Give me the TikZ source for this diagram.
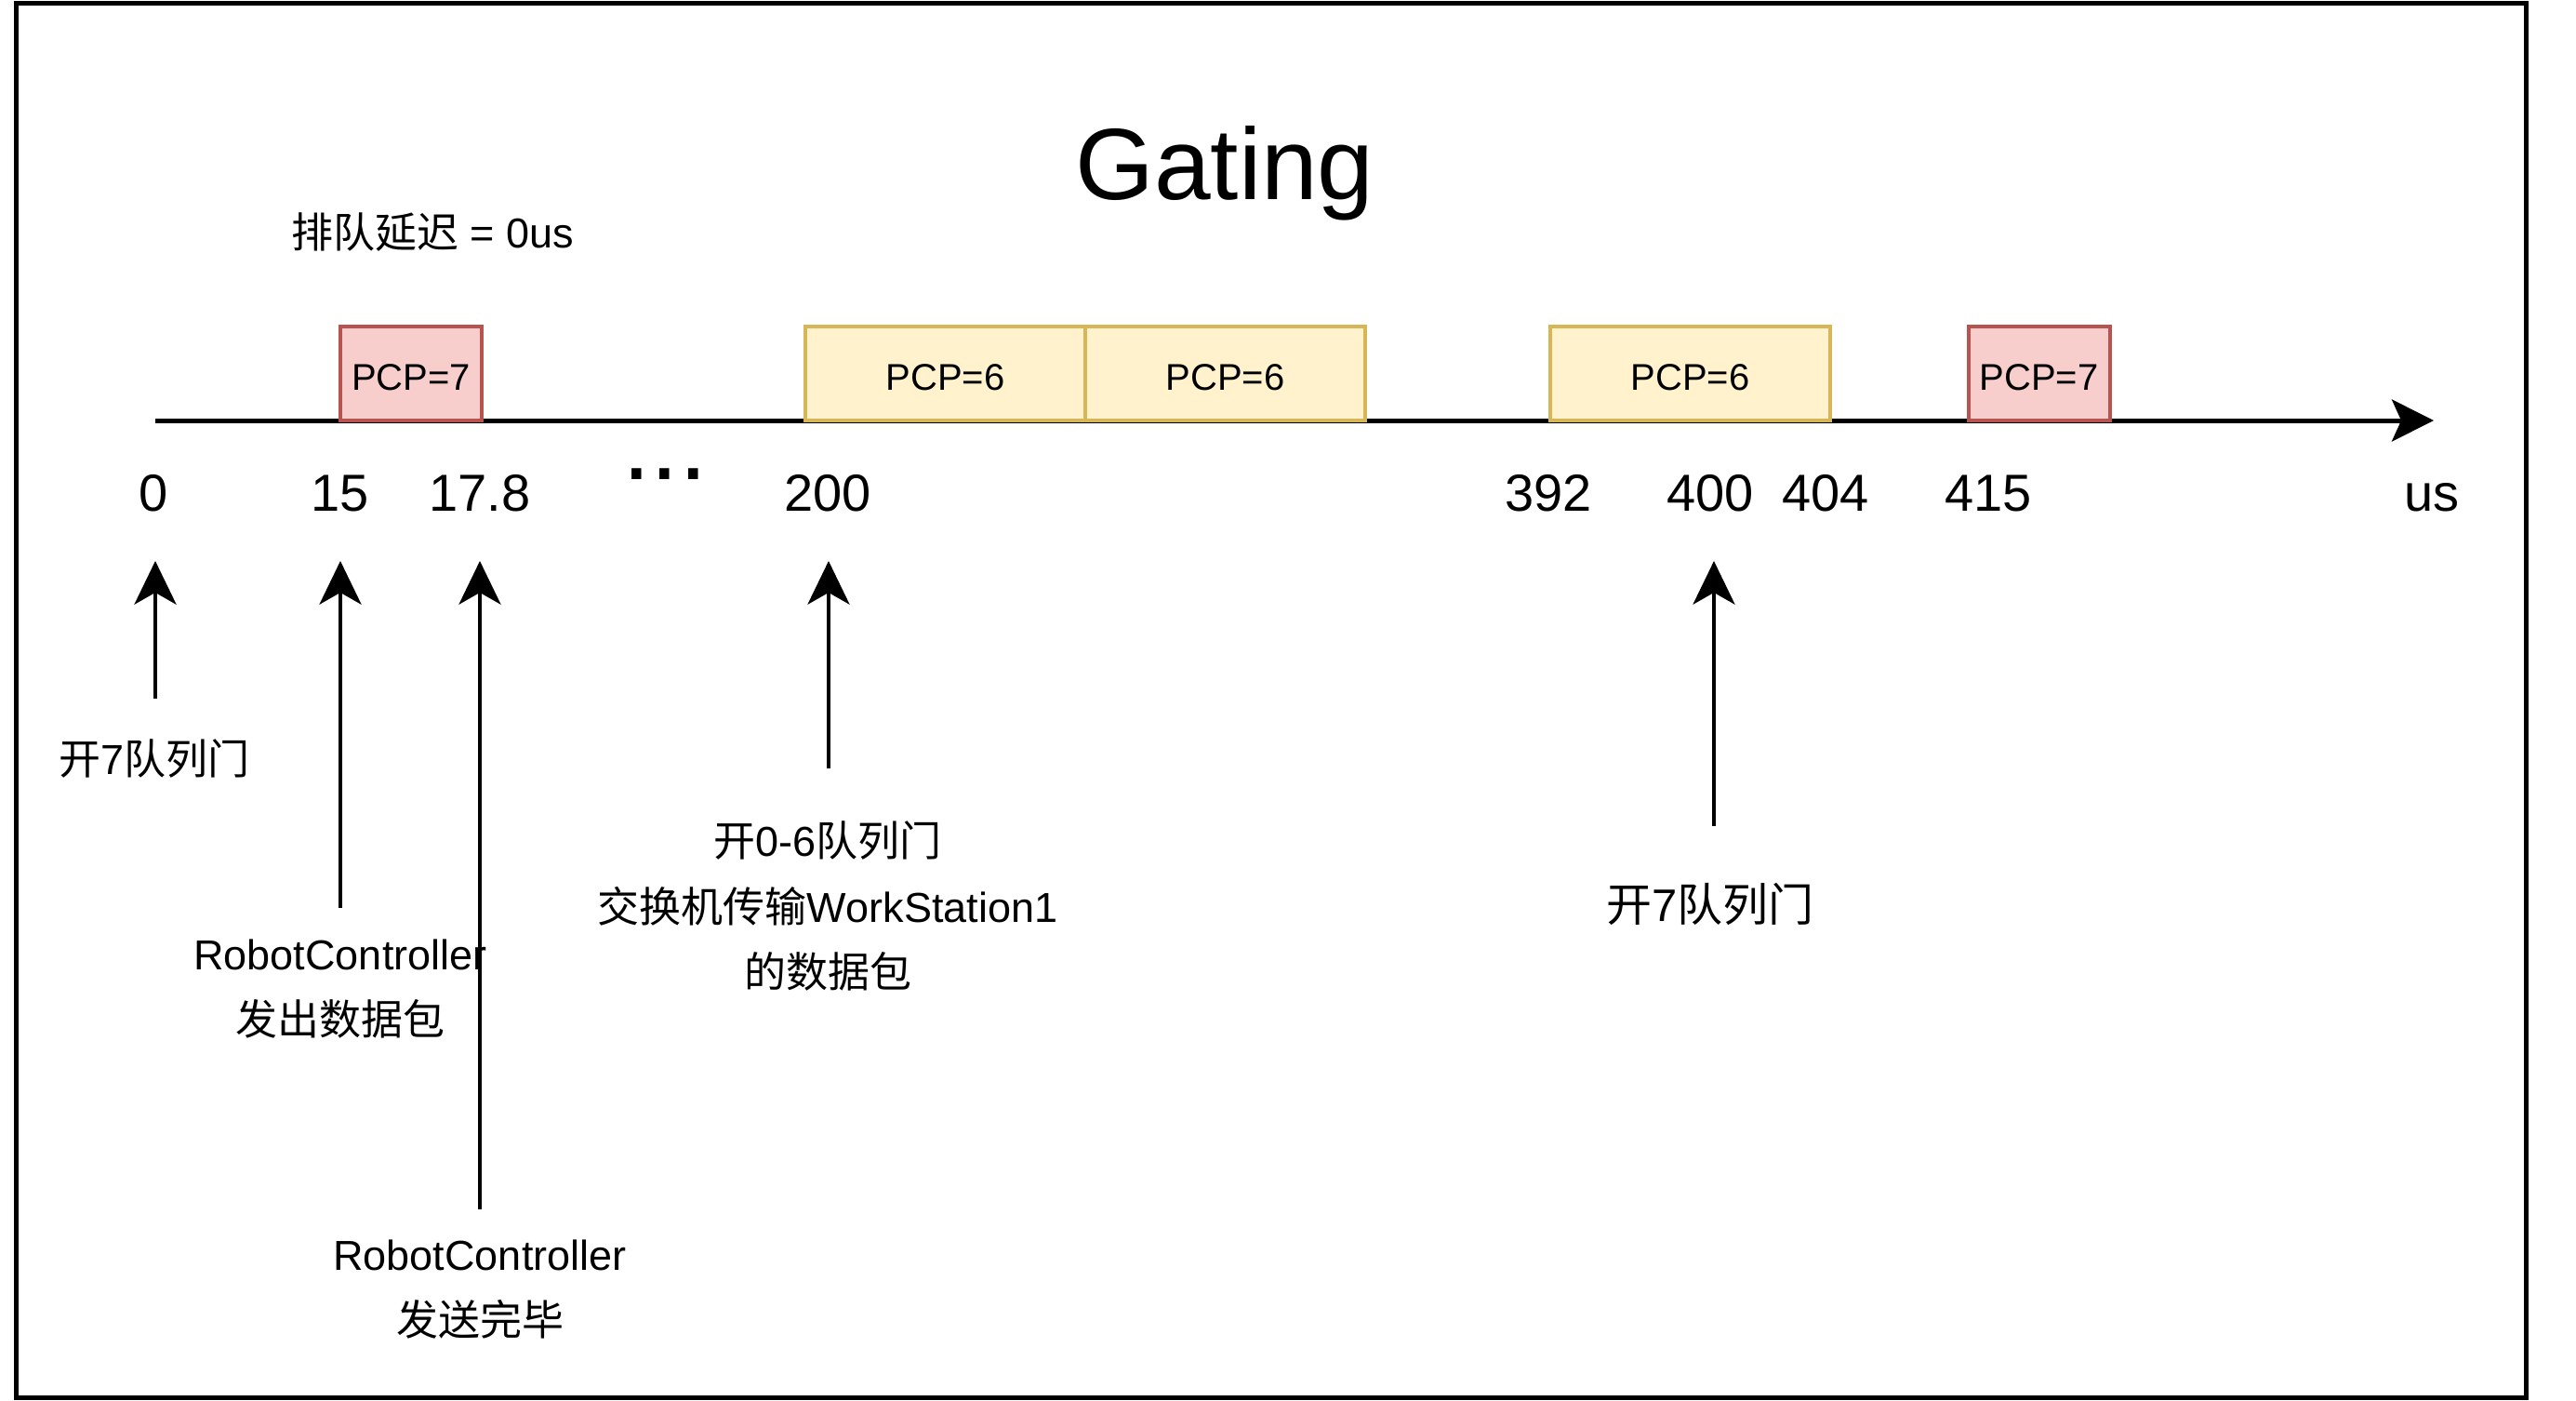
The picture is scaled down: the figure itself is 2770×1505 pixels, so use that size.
\documentclass[tikz,border=0pt]{standalone}
\usepackage{fontspec}
\setmainfont{Liberation Sans}
\newfontfamily\cjkfont{Noto Sans CJK SC}
\newcommand\zh[1]{{\cjkfont #1}}
\newcommand\fsz[2]{\fontsize{#1}{#2}\selectfont}
\usetikzlibrary{arrows.meta}
\definecolor{redfill}{HTML}{F8CECC}
\definecolor{redline}{HTML}{B85450}
\definecolor{yelfill}{HTML}{FFF2CC}
\definecolor{yelline}{HTML}{D6B656}
\begin{document}
\begin{tikzpicture}[x=0.3pt,y=-0.3pt,
  uparrow/.style={line width=1.2pt,-{Stealth[length=14pt,width=13.5pt,inset=3.8pt]}},
  axisline/.style={line width=1.5pt,-{Stealth[length=13.5pt,width=13.5pt,inset=3pt]}},
  pkt/.style={draw, line width=1.2pt, inner sep=0pt, minimum height=30.3pt, text height=10.7pt, text depth=0pt, font=\fsz{12}{14}},
  redpkt/.style={pkt, fill=redfill, draw=redline, minimum width=45.6pt},
  yelpkt/.style={pkt, fill=yelfill, draw=yelline, minimum width=90.3pt},
  tick/.style={anchor=base, inner sep=0pt, font=\fsz{16.8}{20}},
  lbl/.style={inner sep=0pt, align=center, font=\fsz{13.5}{21.1}},
  biglbl/.style={inner sep=0pt, align=center, font=\fsz{14.7}{21.1}},
  frame/.style={draw, line width=1.5pt}
]
\useasboundingbox (0,0) rectangle (2770,1505);
\draw[frame] (17,3) rectangle (2716,1502);

% title and note
\node[anchor=base, inner sep=0pt, font=\fsz{32.7}{36}] (title) at (1317,214) {Gating};
\node[inner sep=0pt, font=\fsz{13.5}{16}] (delay) at (465,250) {\zh{排队延迟} = 0us};

% time axis
\coordinate (axs) at (167,452);
\coordinate (axe) at (2617,452);
\draw[axisline] (axs) -- (axe);

% packets
\node[redpkt] (p1) at (442,401.5) {PCP=7};
\node[yelpkt] (p2) at (1016.5,401.5) {PCP=6};
\node[yelpkt] (p3) at (1317.5,401.5) {PCP=6};
\node[yelpkt] (p4) at (1817.5,401.5) {PCP=6};
\node[redpkt] (p5) at (2192.5,401.5) {PCP=7};

% tick labels
\node[tick] (n0) at (165,549) {0};
\node[tick] (n15) at (366,549) {15};
\node[tick] (n178) at (516,549) {17.8};
\node[anchor=base, inner sep=0pt, font=\fsz{33}{36}] (dots) at (715,515) {...};
\node[tick] (n200) at (890,549) {200};
\node[tick] (n392) at (1665,549) {392};
\node[tick] (n400) at (1839,549) {400};
\node[tick] (n404) at (1963,549) {404};
\node[tick] (n415) at (2138,549) {415};
\node[tick] (nus) at (2615,549) {us};

% event arrows
\coordinate (a1t) at (167,603);  \coordinate (a1s) at (167,751);
\coordinate (a2t) at (366,603);  \coordinate (a2s) at (366,976);
\coordinate (a3t) at (516,603);  \coordinate (a3s) at (516,1300);
\coordinate (a4t) at (891,603);  \coordinate (a4s) at (891,826);
\coordinate (a5t) at (1843,603); \coordinate (a5s) at (1843,888);
\draw[uparrow] (a1s) -- (a1t);
\draw[uparrow] (a2s) -- (a2t);
\draw[uparrow] (a3s) -- (a3t);
\draw[uparrow] (a4s) -- (a4t);
\draw[uparrow] (a5s) -- (a5t);

% event labels
\node[lbl] (e1) at (166,815) {\zh{开}7\zh{队列门}};
\node[lbl] (e2) at (366,1063) {RobotController\\\zh{发出数据包}};
\node[lbl] (e3) at (516,1386) {RobotController\\\zh{发送完毕}};
\node[lbl] (e4) at (890,974) {\zh{开}0-6\zh{队列门}\\\zh{交换机传输}WorkStation1\\\zh{的数据包}};
\node[biglbl] (e5) at (1839,972) {\zh{开}7\zh{队列门}};
\end{tikzpicture}
\end{document}
